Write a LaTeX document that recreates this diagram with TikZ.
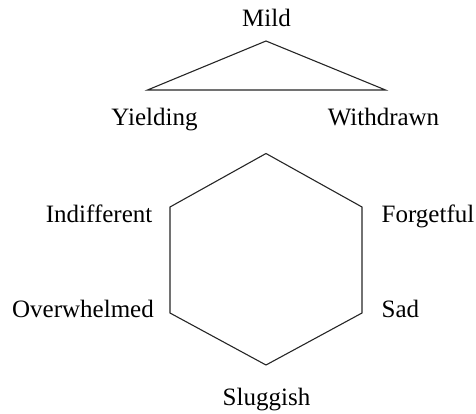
\documentclass[tikz,border=0pt]{standalone}
\usepackage{fontspec}
\setmainfont{Liberation Serif}
\begin{document}
\begin{tikzpicture}[x=1pt,y=-1pt,
  lbl/.style={inner sep=0pt,font=\fontsize{25}{28}\selectfont},
  edge/.style={draw=black!85,line width=1.1pt,line join=miter}]
\useasboundingbox (0,0) rectangle (476,414);
% triangle
\coordinate (tA) at (266,41);
\coordinate (tL) at (147.5,90);
\coordinate (tR) at (385.5,90);
\draw[edge] (tA) -- (tL) -- (tR) -- cycle;
% hexagon
\coordinate (h1) at (266,153.5);
\coordinate (h2) at (362,207);
\coordinate (h3) at (362,313);
\coordinate (h4) at (266,365);
\coordinate (h5) at (170,313);
\coordinate (h6) at (170,207);
\draw[edge] (h1) -- (h2) -- (h3) -- (h4) -- (h5) -- (h6) -- cycle;
% labels
\node[lbl,anchor=base] (mild) at (266.5,27) {Mild};
\node[lbl,anchor=base] (yield) at (154.5,126) {Yielding};
\node[lbl,anchor=base] (withd) at (383.5,126) {Withdrawn};
\node[lbl,anchor=base east] (indiff) at (152.5,222) {Indifferent};
\node[lbl,anchor=base east] (overw) at (154,317) {Overwhelmed};
\node[lbl,anchor=base west] (forg) at (381.5,222) {Forgetful};
\node[lbl,anchor=base west] (sad) at (381.5,317) {Sad};
\node[lbl,anchor=base] (slug) at (266.5,405) {Sluggish};
\end{tikzpicture}
\end{document}
